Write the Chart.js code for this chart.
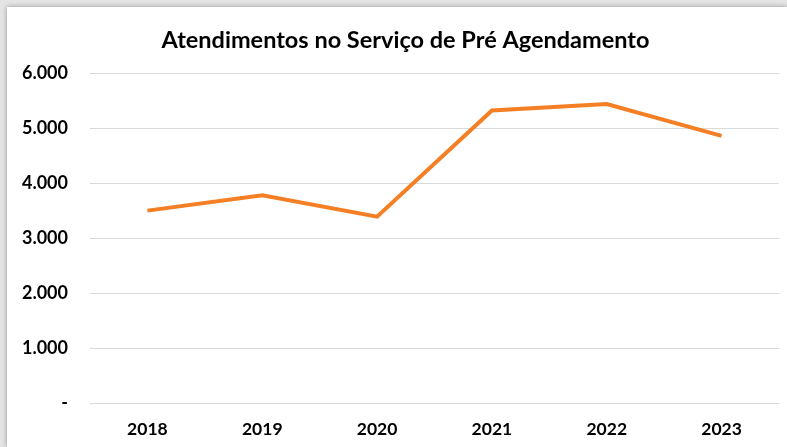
<!DOCTYPE html>
<html>
<head>
<meta charset="utf-8">
<script src="https://cdn.jsdelivr.net/npm/chart.js@4"></script>
<style>
  html, body { margin: 0; padding: 0; }
  body { width: 787px; height: 447px; background: #e4e4e4; overflow: hidden; position: relative; }
  #box { position: absolute; left: 7px; top: 7px; width: 780px; height: 440px; background: #fff; box-shadow: 0 0 5px rgba(0,0,0,0.35); }
</style>
</head>
<body>
<div id="box"><canvas id="chart" width="780" height="440"></canvas></div>
<script>
const anos = ['2018', '2019', '2020', '2021', '2022', '2023'];
const atendimentos = [3500, 3780, 3390, 5320, 5440, 4860];
const yTicks = [0, 1000, 2000, 3000, 4000, 5000, 6000];

function formatar(v) {
  if (v === 0) return '-';
  return v.toString().replace(/\B(?=(\d{3})+(?!\d))/g, '.');
}

// o título no original fica um pouco à direita do centro do canvas
const deslocaTitulo = {
  id: 'deslocaTitulo',
  afterLayout(chart) {
    if (chart.titleBlock) chart.titleBlock.left += 25;
  }
};

const ctx = document.getElementById('chart').getContext('2d');
new Chart(ctx, {
  type: 'line',
  data: {
    labels: anos,
    datasets: [{
      label: 'Atendimentos',
      data: atendimentos,
      borderColor: '#F47F24',
      backgroundColor: '#F47F24',
      borderWidth: 4,
      pointRadius: 0,
      tension: 0
    }]
  },
  options: {
    responsive: false,
    animation: false,
    layout: { padding: { top: 0, right: 8, bottom: 8, left: 0 } },
    plugins: {
      legend: { display: false },
      tooltip: { enabled: false },
      title: {
        display: true,
        text: 'Atendimentos no Serviço de Pré Agendamento',
        color: '#000',
        font: { family: 'Lato', size: 23.5, weight: 'bold' },
        padding: { top: 19, bottom: 19 }
      }
    },
    scales: {
      x: {
        offset: true,
        afterFit: axis => { axis.height = 36; },
        grid: { display: false, drawTicks: false },
        border: { display: false },
        ticks: {
          color: '#000',
          padding: 16,
          font: { family: 'Lato', size: 17.5, weight: 'bold' }
        }
      },
      y: {
        min: 0,
        max: 6000,
        afterBuildTicks: axis => { axis.ticks = yTicks.map(v => ({ value: v })); },
        afterFit: axis => { axis.width = 83; },
        grid: { color: '#d9d9d9', lineWidth: 1, drawTicks: false },
        border: { display: false },
        ticks: {
          color: '#000',
          padding: 22,
          font: { family: 'Lato', size: 18, weight: 'bold' },
          callback: v => formatar(v)
        }
      }
    }
  },
  plugins: [deslocaTitulo]
});
</script>
</body>
</html>
